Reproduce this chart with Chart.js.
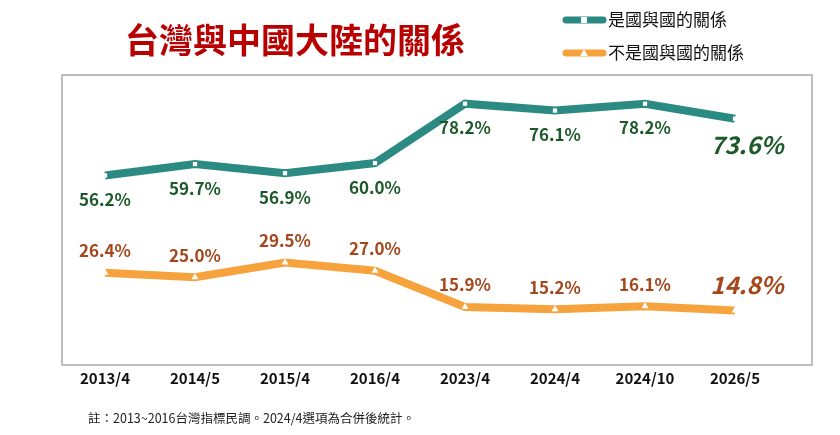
<!DOCTYPE html>
<html><head><meta charset="utf-8">
<script src="https://cdn.jsdelivr.net/npm/chart.js@4"></script>
<style>body{margin:0;background:#fff}canvas{display:block}</style>
</head><body>
<canvas id="c" width="840" height="435"></canvas>
<script>
const categories = ['2013/4', '2014/5', '2015/4', '2016/4', '2023/4', '2024/4', '2024/10', '2026/5'];
const stateToState = [56.2, 59.7, 56.9, 60.0, 78.2, 76.1, 78.2, 73.6];
const notStateToState = [26.4, 25.0, 29.5, 27.0, 15.9, 15.2, 16.1, 14.8];
const TEAL = '#2b8a82', ORANGE = '#f6a33e';
const FONT = '"Noto Sans CJK TC", "Noto Sans", sans-serif';

const decor = {
  id: 'decor',
  beforeDatasetsDraw(chart) {
    const { ctx } = chart;
    ctx.save();
    ctx.strokeStyle = '#a8a8a8'; ctx.lineWidth = 1.5;
    ctx.strokeRect(62, 75, 750, 290);
    ctx.restore();
  },
  afterDatasetsDraw(chart) {
    const { ctx } = chart;
    ctx.save();
    // title
    ctx.fillStyle = '#b80000';
    ctx.font = 'bold 34px ' + FONT;
    ctx.textAlign = 'center'; ctx.textBaseline = 'middle';
    ctx.fillText('台灣與中國大陸的關係', 295, 40);
    // legend
    const leg = [[TEAL, '是國與國的關係', 20, 'sq'], [ORANGE, '不是國與國的關係', 53, 'tri']];
    leg.forEach(([col, txt, y, m]) => {
      ctx.strokeStyle = col; ctx.lineWidth = 7; ctx.lineCap = 'round';
      ctx.beginPath(); ctx.moveTo(566, y); ctx.lineTo(603, y); ctx.stroke();
      ctx.fillStyle = '#fff';
      if (m === 'sq') ctx.fillRect(581, y - 3, 6, 6);
      else { ctx.beginPath(); ctx.moveTo(584, y - 3.5); ctx.lineTo(588, y + 3); ctx.lineTo(580, y + 3); ctx.fill(); }
      ctx.fillStyle = '#111'; ctx.font = '17px ' + FONT;
      ctx.textAlign = 'left'; ctx.textBaseline = 'middle';
      ctx.fillText(txt, 608, y);
    });
    // value labels
    const last = categories.length - 1;
    [[0, stateToState, '#1d5a2a', 24], [1, notStateToState, '#a4471c', -22]].forEach(([di, vals, col, dy]) => {
      const meta = chart.getDatasetMeta(di);
      meta.data.forEach((p, i) => {
        const big = i === last;
        ctx.fillStyle = col;
        ctx.font = (big ? 'italic bold 24px ' : 'bold 17px ') + FONT;
        ctx.textAlign = 'center'; ctx.textBaseline = 'middle';
        ctx.fillText(vals[i].toFixed(1) + '%', p.x + (big ? 12 : 0), p.y + dy + (big ? (dy > 0 ? 2 : -4) : 0));
      });
    });
    // footnote
    ctx.fillStyle = '#222'; ctx.font = '12.5px ' + FONT;
    ctx.textAlign = 'left'; ctx.textBaseline = 'middle';
    ctx.fillText('註：2013~2016台灣指標民調。2024/4選項為合併後統計。', 88, 418);
    ctx.restore();
  }
};

new Chart(document.getElementById('c'), {
  type: 'line',
  data: {
    labels: categories,
    datasets: [
      { data: stateToState, borderColor: TEAL, borderWidth: 8, pointStyle: 'rect', pointRadius: 3, pointBackgroundColor: '#fff', pointBorderWidth: 0, tension: 0 },
      { data: notStateToState, borderColor: ORANGE, borderWidth: 8, pointStyle: 'triangle', pointRadius: 4, pointBackgroundColor: '#fff', pointBorderWidth: 0, tension: 0 }
    ]
  },
  options: {
    responsive: false, animation: false,
    layout: { padding: { left: 60, right: 60, top: 75, bottom: 36 } },
    plugins: { legend: { display: false }, tooltip: { enabled: false } },
    scales: {
      x: { offset: true, grid: { display: false }, border: { display: false },
           ticks: { color: '#111', padding: 12, font: { family: FONT, size: 15, weight: 'bold' } } },
      y: { display: false, min: 3, max: 87 }
    }
  },
  plugins: [decor]
});
</script>
</body></html>
